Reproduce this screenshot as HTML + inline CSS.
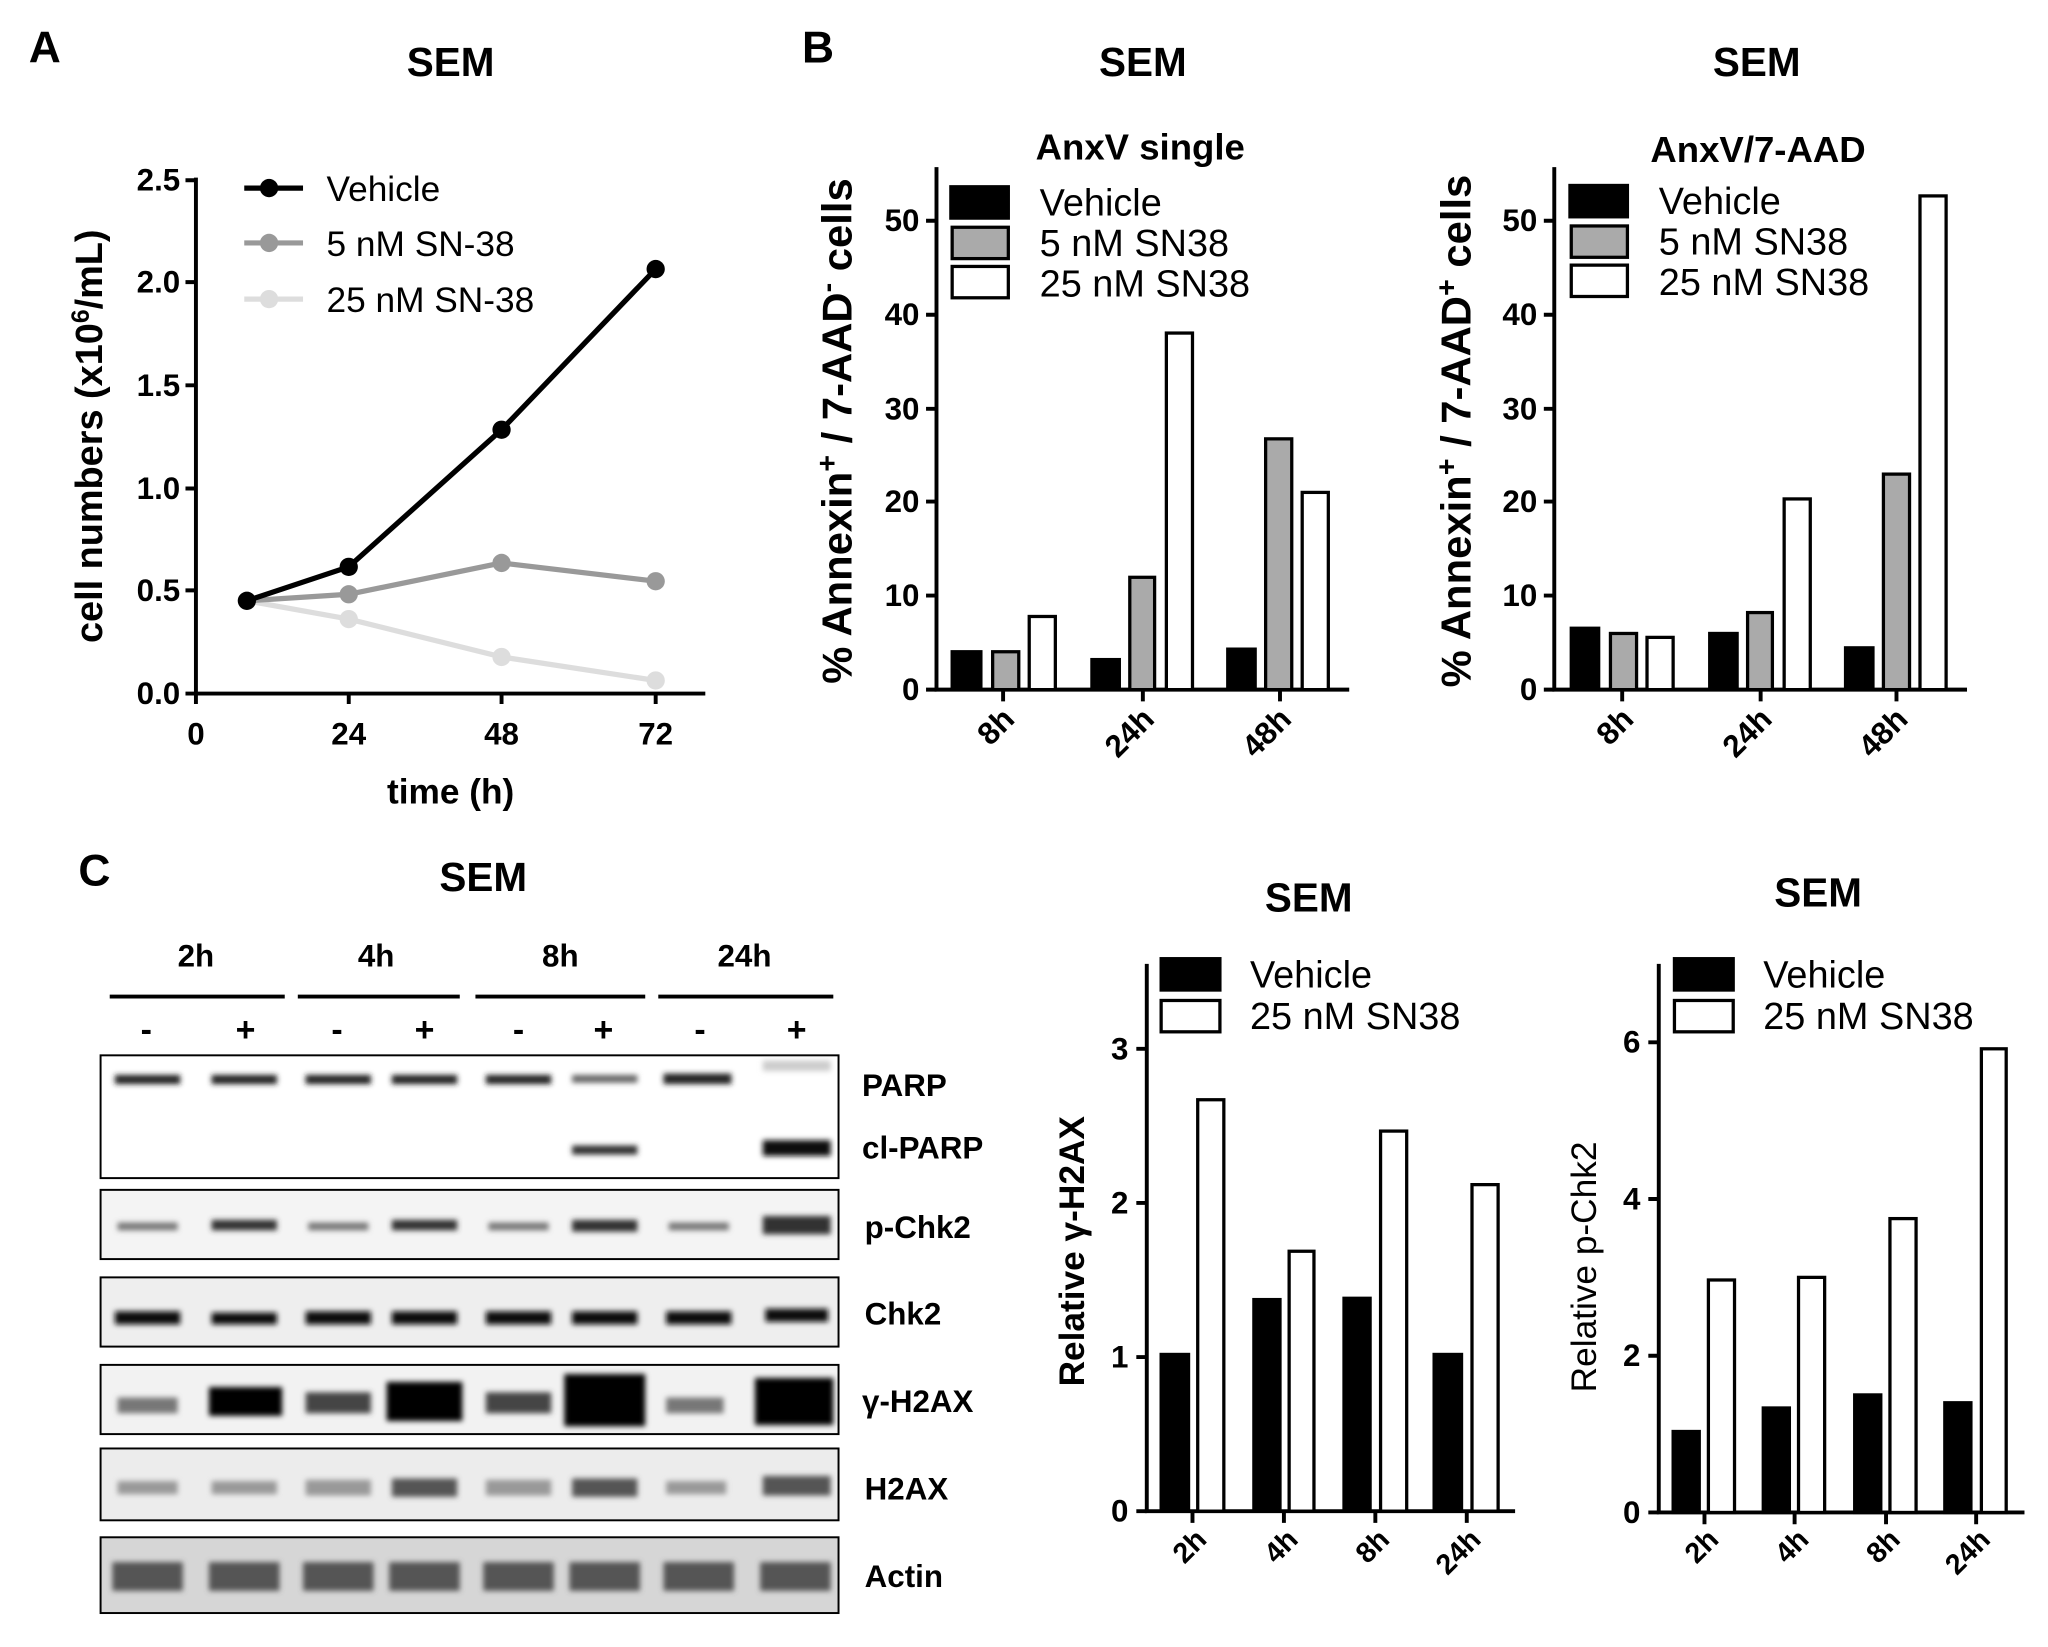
<!DOCTYPE html>
<html><head><meta charset="utf-8"><style>html,body{margin:0;padding:0;background:#fff}svg{display:block}text{font-family:"Liberation Sans",Arial,sans-serif}</style></head>
<body>
<svg width="2048" height="1647" viewBox="0 0 1568 1261" xmlns="http://www.w3.org/2000/svg">
<defs>
<filter id="b1"><feGaussianBlur stdDeviation="2"/></filter>
</defs>
<g font-weight="bold" fill="#000">
<text x="22" y="48" font-size="34">A</text>
<text x="614" y="48" font-size="34">B</text>
<text x="60" y="678" font-size="34">C</text>
<text x="345" y="58" font-size="31" text-anchor="middle">SEM</text>
<text x="875" y="58" font-size="31" text-anchor="middle">SEM</text>
<text x="1345" y="58" font-size="31" text-anchor="middle">SEM</text>
<text x="370" y="682" font-size="31" text-anchor="middle">SEM</text>
<text x="1002" y="698" font-size="31" text-anchor="middle">SEM</text>
<text x="1392" y="694" font-size="31" text-anchor="middle">SEM</text>
</g>

<!-- Panel A -->
<g stroke="#000" stroke-width="3" fill="none">
<path d="M150 136 V531 H540"/>
<path d="M142 138H150M142 216H150M142 295H150M142 374H150M142 452H150M142 531H150"/>
<path d="M150 531V539M267 531V539M384 531V539M502 531V539"/>
</g>
<g font-size="24" font-weight="bold" text-anchor="end">
<text x="138" y="146">2.5</text><text x="138" y="224">2.0</text><text x="138" y="303">1.5</text>
<text x="138" y="382">1.0</text><text x="138" y="460">0.5</text><text x="138" y="539">0.0</text>
</g>
<g font-size="24" font-weight="bold" text-anchor="middle">
<text x="150" y="570">0</text><text x="267" y="570">24</text><text x="384" y="570">48</text><text x="502" y="570">72</text>
<text x="345" y="615" font-size="27">time (h)</text>
</g>
<text transform="translate(78 334) rotate(-90)" font-size="29" font-weight="bold" text-anchor="middle">cell numbers (x10<tspan dy="-10" font-size="19">6</tspan><tspan dy="10">/mL)</tspan></text>
<polyline points="189,460 267,474 384,503 502,521" fill="none" stroke="#ddd" stroke-width="4"/>
<polyline points="189,460 267,455 384,431 502,445" fill="none" stroke="#999" stroke-width="4"/>
<polyline points="189,460 267,434 384,329 502,206" fill="none" stroke="#000" stroke-width="4"/>
<g fill="#ddd"><circle cx="267" cy="474" r="7"/><circle cx="384" cy="503" r="7"/><circle cx="502" cy="521" r="7"/></g>
<g fill="#999"><circle cx="267" cy="455" r="7"/><circle cx="384" cy="431" r="7"/><circle cx="502" cy="445" r="7"/></g>
<g fill="#000"><circle cx="267" cy="434" r="7"/><circle cx="384" cy="329" r="7"/><circle cx="502" cy="206" r="7"/><circle cx="189" cy="460" r="7"/></g>
<line x1="187" y1="144" x2="232" y2="144" stroke="#000" stroke-width="4"/><circle cx="206" cy="144" r="7"/>
<line x1="187" y1="186" x2="232" y2="186" stroke="#999" stroke-width="4"/><circle cx="206" cy="186" r="7" fill="#999"/>
<line x1="187" y1="229" x2="232" y2="229" stroke="#ddd" stroke-width="4"/><circle cx="206" cy="229" r="7" fill="#ddd"/>
<g font-size="27"><text x="250" y="154">Vehicle</text><text x="250" y="196">5 nM SN-38</text><text x="250" y="239">25 nM SN-38</text></g>

<!-- Panel B1 -->
<text x="873" y="122" font-size="28" font-weight="bold" text-anchor="middle">AnxV single</text>
<g stroke="#000" stroke-width="3" fill="none">
<path d="M717 128V528H1033"/>
<path d="M709 169H717M709 241H717M709 313H717M709 384H717M709 456H717M709 528H717"/>
<path d="M768 528V537M875 528V537M980 528V537"/>
</g>
<g font-size="24" font-weight="bold" text-anchor="end">
<text x="704" y="177">50</text><text x="704" y="249">40</text><text x="704" y="321">30</text><text x="704" y="392">20</text><text x="704" y="464">10</text><text x="704" y="536">0</text>
</g>
<text transform="translate(652 330) rotate(-90)" font-size="32" font-weight="bold" text-anchor="middle">% Annexin<tspan dy="-11" font-size="22">+</tspan><tspan dy="11"> / 7-AAD</tspan><tspan dy="-11" font-size="22">-</tspan><tspan dy="11"> cells</tspan></text>
<g stroke="#000" stroke-width="2.5">
<rect x="729" y="499" width="22" height="29" fill="#000"/>
<rect x="760" y="499" width="20" height="29" fill="#aaa"/>
<rect x="788" y="472" width="20" height="56" fill="#fff"/>
<rect x="836" y="505" width="21" height="23" fill="#000"/>
<rect x="865" y="442" width="19" height="86" fill="#aaa"/>
<rect x="893" y="255" width="20" height="273" fill="#fff"/>
<rect x="940" y="497" width="21" height="31" fill="#000"/>
<rect x="969" y="336" width="20" height="192" fill="#aaa"/>
<rect x="997" y="377" width="20" height="151" fill="#fff"/>
<rect x="728" y="143" width="44" height="24" fill="#000"/>
<rect x="729" y="174" width="43" height="24" fill="#aaa"/>
<rect x="729" y="204" width="43" height="24" fill="#fff"/>
</g>
<g font-size="29"><text x="796" y="165">Vehicle</text><text x="796" y="196">5 nM SN38</text><text x="796" y="227">25 nM SN38</text></g>
<g font-size="24" font-weight="bold" text-anchor="end">
<text transform="translate(778 552) rotate(-45)">8h</text>
<text transform="translate(885 552) rotate(-45)">24h</text>
<text transform="translate(990 552) rotate(-45)">48h</text>
</g>

<!-- Panel B2 -->
<text x="1346" y="124" font-size="28" font-weight="bold" text-anchor="middle">AnxV/7-AAD</text>
<g stroke="#000" stroke-width="3" fill="none">
<path d="M1190 128V528H1506"/>
<path d="M1182 169H1190M1182 241H1190M1182 313H1190M1182 384H1190M1182 456H1190M1182 528H1190"/>
<path d="M1242 528V537M1348 528V537M1452 528V537"/>
</g>
<g font-size="24" font-weight="bold" text-anchor="end">
<text x="1177" y="177">50</text><text x="1177" y="249">40</text><text x="1177" y="321">30</text><text x="1177" y="392">20</text><text x="1177" y="464">10</text><text x="1177" y="536">0</text>
</g>
<text transform="translate(1126 330) rotate(-90)" font-size="32" font-weight="bold" text-anchor="middle">% Annexin<tspan dy="-11" font-size="22">+</tspan><tspan dy="11"> / 7-AAD</tspan><tspan dy="-11" font-size="22">+</tspan><tspan dy="11"> cells</tspan></text>
<g stroke="#000" stroke-width="2.5">
<rect x="1203" y="481" width="21" height="47" fill="#000"/>
<rect x="1233" y="485" width="20" height="43" fill="#aaa"/>
<rect x="1261" y="488" width="20" height="40" fill="#fff"/>
<rect x="1309" y="485" width="21" height="43" fill="#000"/>
<rect x="1338" y="469" width="19" height="59" fill="#aaa"/>
<rect x="1366" y="382" width="20" height="146" fill="#fff"/>
<rect x="1413" y="496" width="21" height="32" fill="#000"/>
<rect x="1442" y="363" width="20" height="165" fill="#aaa"/>
<rect x="1470" y="150" width="20" height="378" fill="#fff"/>
<rect x="1202" y="142" width="44" height="24" fill="#000"/>
<rect x="1203" y="173" width="43" height="24" fill="#aaa"/>
<rect x="1203" y="203" width="43" height="24" fill="#fff"/>
</g>
<g font-size="29"><text x="1270" y="164">Vehicle</text><text x="1270" y="195">5 nM SN38</text><text x="1270" y="226">25 nM SN38</text></g>
<g font-size="24" font-weight="bold" text-anchor="end">
<text transform="translate(1252 552) rotate(-45)">8h</text>
<text transform="translate(1358 552) rotate(-45)">24h</text>
<text transform="translate(1462 552) rotate(-45)">48h</text>
</g>

<!-- Panel C blots -->
<g font-size="24" font-weight="bold" text-anchor="middle">
<text x="150" y="740">2h</text><text x="288" y="740">4h</text><text x="429" y="740">8h</text><text x="570" y="740">24h</text>
</g>
<g stroke="#000" stroke-width="3">
<path d="M84 763H218M228 763H352M364 763H494M504 763H638"/>
</g>
<g font-size="26" font-weight="bold" text-anchor="middle">
<text x="112" y="797">-</text><text x="188" y="797">+</text><text x="258" y="797">-</text><text x="325" y="797">+</text>
<text x="397" y="797">-</text><text x="462" y="797">+</text><text x="536" y="797">-</text><text x="610" y="797">+</text>
</g>
<g fill="#fff" stroke="#000" stroke-width="1.5">
<rect x="77" y="808" width="565" height="94"/>
<rect x="77" y="911" width="565" height="53" fill="#f4f4f4"/>
<rect x="77" y="978" width="565" height="53" fill="#eee"/>
<rect x="77" y="1045" width="565" height="53" fill="#f2f2f2"/>
<rect x="77" y="1109" width="565" height="55" fill="#ececec"/>
<rect x="77" y="1177" width="565" height="58" fill="#d6d6d6"/>
</g>
<g filter="url(#b1)">
<g fill="#222"><rect x="88" y="823" width="50" height="7"/><rect x="162" y="823" width="50" height="7"/><rect x="234" y="823" width="50" height="7"/><rect x="300" y="823" width="50" height="7"/><rect x="372" y="823" width="50" height="7"/><rect x="508" y="822" width="52" height="8"/></g>
<rect x="438" y="823" width="50" height="6" fill="#666"/>
<rect x="438" y="877" width="50" height="7" fill="#333"/>
<rect x="584" y="873" width="52" height="12" fill="#111"/>
<rect x="584" y="812" width="52" height="8" fill="#ccc"/>
<g fill="#777"><rect x="90" y="936" width="46" height="6"/><rect x="236" y="936" width="46" height="6"/><rect x="374" y="936" width="46" height="6"/><rect x="512" y="936" width="46" height="6"/></g>
<g fill="#333"><rect x="162" y="934" width="50" height="8"/><rect x="300" y="934" width="50" height="8"/><rect x="438" y="934" width="50" height="9"/><rect x="584" y="931" width="52" height="14"/></g>
<g fill="#111"><rect x="88" y="1004" width="50" height="10"/><rect x="162" y="1005" width="50" height="9"/><rect x="234" y="1004" width="50" height="10"/><rect x="300" y="1004" width="50" height="10"/><rect x="372" y="1004" width="50" height="10"/><rect x="438" y="1004" width="50" height="10"/><rect x="510" y="1004" width="50" height="10"/><rect x="586" y="1002" width="48" height="10"/></g>
<g fill="#777"><rect x="90" y="1070" width="46" height="12"/><rect x="510" y="1070" width="44" height="12"/></g>
<g fill="#444"><rect x="234" y="1066" width="50" height="16"/><rect x="372" y="1066" width="50" height="16"/></g>
<g fill="#000"><rect x="160" y="1062" width="56" height="22"/><rect x="296" y="1058" width="58" height="30"/><rect x="432" y="1052" width="62" height="40"/><rect x="578" y="1055" width="60" height="36"/></g>
<g fill="#999"><rect x="90" y="1134" width="46" height="10"/><rect x="162" y="1134" width="50" height="10"/><rect x="234" y="1133" width="50" height="12"/><rect x="372" y="1133" width="50" height="12"/><rect x="510" y="1134" width="46" height="10"/></g>
<g fill="#555"><rect x="300" y="1132" width="50" height="14"/><rect x="438" y="1132" width="50" height="14"/><rect x="584" y="1130" width="52" height="15"/></g>
<g fill="#555"><rect x="86" y="1196" width="54" height="22"/><rect x="160" y="1196" width="54" height="22"/><rect x="232" y="1196" width="54" height="22"/><rect x="298" y="1196" width="54" height="22"/><rect x="370" y="1196" width="54" height="22"/><rect x="436" y="1196" width="54" height="22"/><rect x="508" y="1196" width="54" height="22"/><rect x="582" y="1196" width="54" height="22"/></g>
</g>
<g font-size="24" font-weight="bold">
<text x="660" y="839">PARP</text><text x="660" y="887">cl-PARP</text><text x="662" y="948">p-Chk2</text>
<text x="662" y="1014">Chk2</text><text x="660" y="1081">γ-H2AX</text><text x="662" y="1148">H2AX</text><text x="662" y="1215">Actin</text>
</g>

<!-- gamma-H2AX chart -->
<g stroke="#000" stroke-width="3" fill="none">
<path d="M878 738V1157H1160"/>
<path d="M870 803H878M870 921H878M870 1039H878M870 1157H878"/>
<path d="M913 1157V1166M983 1157V1166M1053 1157V1166M1123 1157V1166"/>
</g>
<g font-size="24" font-weight="bold" text-anchor="end"><text x="864" y="811">3</text><text x="864" y="929">2</text><text x="864" y="1047">1</text><text x="864" y="1165">0</text></g>
<text transform="translate(830 958) rotate(-90)" font-size="27" font-weight="bold" text-anchor="middle">Relative γ-H2AX</text>
<g stroke="#000" stroke-width="2.5">
<rect x="889" y="1037" width="21" height="120" fill="#000"/><rect x="917" y="842" width="20" height="315" fill="#fff"/>
<rect x="960" y="995" width="20" height="162" fill="#000"/><rect x="987" y="958" width="19" height="199" fill="#fff"/>
<rect x="1029" y="994" width="20" height="163" fill="#000"/><rect x="1057" y="866" width="20" height="291" fill="#fff"/>
<rect x="1098" y="1037" width="21" height="120" fill="#000"/><rect x="1127" y="907" width="20" height="250" fill="#fff"/>
<rect x="889" y="734" width="45" height="24" fill="#000"/><rect x="889" y="766" width="45" height="24" fill="#fff"/>
</g>
<g font-size="29"><text x="957" y="756">Vehicle</text><text x="957" y="788">25 nM SN38</text></g>
<g font-size="22" font-weight="bold" text-anchor="end">
<text transform="translate(925 1180) rotate(-45)">2h</text><text transform="translate(995 1180) rotate(-45)">4h</text>
<text transform="translate(1065 1180) rotate(-45)">8h</text><text transform="translate(1135 1180) rotate(-45)">24h</text>
</g>

<!-- p-Chk2 chart -->
<g stroke="#000" stroke-width="3" fill="none">
<path d="M1270 738V1158H1550"/>
<path d="M1262 798H1270M1262 918H1270M1262 1038H1270M1262 1158H1270"/>
<path d="M1305 1158V1167M1374 1158V1167M1444 1158V1167M1513 1158V1167"/>
</g>
<g font-size="24" font-weight="bold" text-anchor="end"><text x="1256" y="806">6</text><text x="1256" y="926">4</text><text x="1256" y="1046">2</text><text x="1256" y="1166">0</text></g>
<text transform="translate(1222 970) rotate(-90)" font-size="27" text-anchor="middle">Relative p-Chk2</text>
<g stroke="#000" stroke-width="2.5">
<rect x="1281" y="1096" width="20" height="62" fill="#000"/><rect x="1308" y="980" width="20" height="178" fill="#fff"/>
<rect x="1350" y="1078" width="20" height="80" fill="#000"/><rect x="1377" y="978" width="20" height="180" fill="#fff"/>
<rect x="1420" y="1068" width="20" height="90" fill="#000"/><rect x="1447" y="933" width="20" height="225" fill="#fff"/>
<rect x="1489" y="1074" width="20" height="84" fill="#000"/><rect x="1517" y="803" width="19" height="355" fill="#fff"/>
<rect x="1282" y="734" width="45" height="24" fill="#000"/><rect x="1282" y="766" width="45" height="24" fill="#fff"/>
</g>
<g font-size="29"><text x="1350" y="756">Vehicle</text><text x="1350" y="788">25 nM SN38</text></g>
<g font-size="22" font-weight="bold" text-anchor="end">
<text transform="translate(1317 1180) rotate(-45)">2h</text><text transform="translate(1386 1180) rotate(-45)">4h</text>
<text transform="translate(1456 1180) rotate(-45)">8h</text><text transform="translate(1525 1180) rotate(-45)">24h</text>
</g>
</svg>
</body></html>
